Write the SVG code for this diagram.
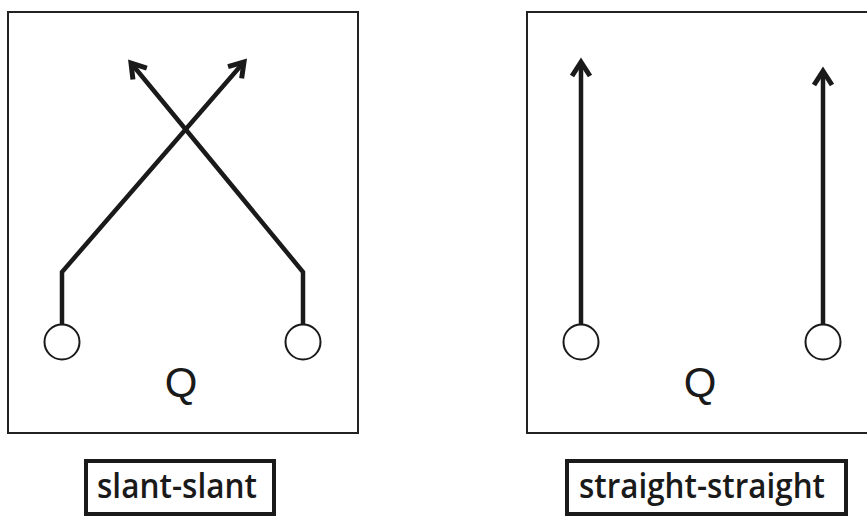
<svg xmlns="http://www.w3.org/2000/svg" width="867" height="516" viewBox="0 0 867 516">
<style>
.panel{fill:#fff;stroke:#222;stroke-width:2}
.wire{fill:none;stroke:#1a1a1a;stroke-width:4.5;stroke-linejoin:miter}
.port{fill:#fff;stroke:#1a1a1a;stroke-width:2}
.q{font-family:"Liberation Sans",Arial,sans-serif;font-size:42px;fill:#1a1a1a;text-anchor:middle}
.lbox{fill:#fff;stroke:#1a1a1a;stroke-width:4}
.ltext{font-family:"Open Sans","Noto Sans",sans-serif;font-weight:600;font-size:35px;fill:#1a1a1a}
</style>
<defs>
<marker id="arr" markerUnits="userSpaceOnUse" viewBox="-20 -12 26 24" refX="0" refY="0" markerWidth="26" markerHeight="24" orient="auto">
<path d="M-14,-9 L0,0 L-14,9" fill="none" stroke="#1a1a1a" stroke-width="5" stroke-linejoin="miter"/>
</marker>
</defs>
<rect width="867" height="516" fill="#fff"/>
<g id="panel-slant">
<rect class="panel" x="8" y="12" width="350" height="421"/>
<text class="q" x="181" y="397">Q</text>
</g>
<g id="panel-straight">
<rect class="panel" x="527" y="12" width="400" height="421"/>
<text class="q" x="700" y="397">Q</text>
</g>
<g id="connectors">
<path class="wire" d="M62,324 L62,272 L244,62" marker-end="url(#arr)"/>
<path class="wire" d="M303,324 L303,272 L131,63" marker-end="url(#arr)"/>
<path class="wire" d="M581,324 L581,62" marker-end="url(#arr)"/>
<path class="wire" d="M823,324 L823,71" marker-end="url(#arr)"/>
</g>
<g id="port-s1"><circle class="port" cx="62" cy="342" r="17.5"/></g>
<g id="port-s2"><circle class="port" cx="303" cy="342" r="17.5"/></g>
<g id="port-t1"><circle class="port" cx="581" cy="342" r="17.5"/></g>
<g id="port-t2"><circle class="port" cx="823" cy="342" r="17.5"/></g>
<g id="label-slant">
<rect class="lbox" x="86" y="461" width="188" height="53"/>
<text class="ltext" x="97" y="498" textLength="160" lengthAdjust="spacingAndGlyphs">slant-slant</text>
</g>
<g id="label-straight">
<rect class="lbox" x="567" y="461" width="279" height="53"/>
<text class="ltext" x="579" y="498" textLength="246" lengthAdjust="spacingAndGlyphs">straight-straight</text>
</g>
</svg>
